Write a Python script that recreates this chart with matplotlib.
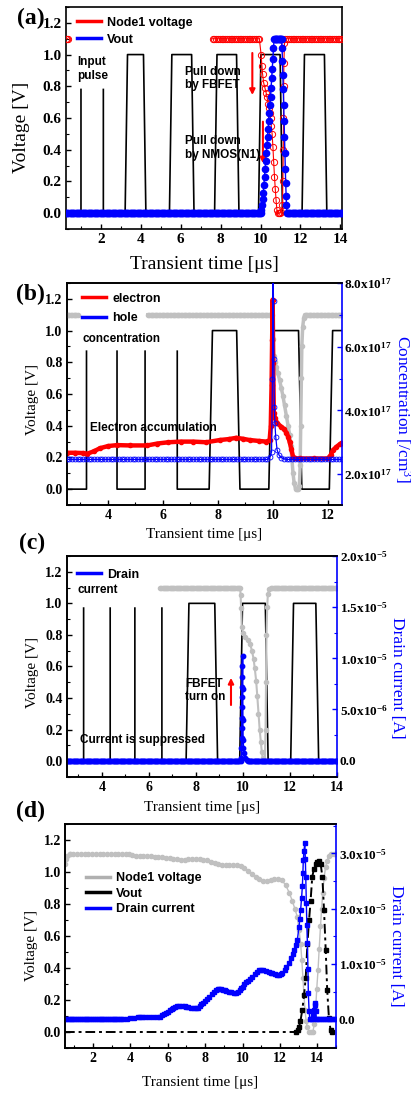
import numpy as np
import matplotlib
matplotlib.use('Agg')
import matplotlib.pyplot as plt
from matplotlib.lines import Line2D
from matplotlib.ticker import MultipleLocator, FixedLocator, FixedFormatter

plt.rcParams['font.family'] = ['Liberation Serif', 'DejaVu Serif']
plt.rcParams['font.weight'] = 'bold'
plt.rcParams['mathtext.default'] = 'regular'
plt.rcParams['xtick.direction'] = 'in'
plt.rcParams['ytick.direction'] = 'in'
plt.rcParams['axes.linewidth'] = 1.2

SANS = ['Liberation Sans', 'DejaVu Sans']
RED, BLUE, GRAY = '#ff0000', '#0000ff', '#c0c0c0'

# ---------------- data ----------------
# (a) input pulses: rise time, fall time, visible edge height
a_on = [1.01, 3.22, 5.44, 7.70, 9.90, 12.08]
a_off = [2.13, 4.14, 6.55, 8.80, 10.98, 13.20]
a_top = [0.78, 1.0, 1.0, 1.0, 1.0, 1.0]

a_vout_rise_t = [10.00, 10.04, 10.08, 10.11, 10.14, 10.17, 10.20, 10.23, 10.26, 10.29, 10.32, 10.35,
                 10.38, 10.41, 10.44, 10.47, 10.50, 10.53, 10.56, 10.59, 10.62, 10.65, 10.68]
a_vout_rise_v = [0.0, 0.02, 0.05, 0.09, 0.13, 0.18, 0.23, 0.28, 0.33, 0.38, 0.43, 0.48,
                 0.53, 0.58, 0.63, 0.68, 0.73, 0.79, 0.85, 0.91, 0.97, 1.04, 1.10]
a_vout_fall_t = [11.06, 11.08, 11.10, 11.12, 11.14, 11.16, 11.18, 11.20, 11.22, 11.24, 11.26, 11.28, 11.30, 11.33]
a_vout_fall_v = [1.10, 1.04, 0.96, 0.87, 0.78, 0.68, 0.58, 0.48, 0.38, 0.28, 0.19, 0.11, 0.05, 0.0]

a_node1_drop_t = [10.03, 10.07, 10.10, 10.16, 10.22, 10.28, 10.33, 10.38, 10.42, 10.46, 10.50, 10.54,
                  10.58, 10.62, 10.66, 10.70, 10.74, 10.78, 10.82, 10.86, 10.92, 10.98, 11.04, 11.10,
                  11.12, 11.14, 11.15, 11.16, 11.17, 11.20]
a_node1_drop_v = [1.0, 0.93, 0.88, 0.82, 0.79, 0.76, 0.73, 0.69, 0.66, 0.63, 0.60, 0.55,
                  0.50, 0.42, 0.32, 0.23, 0.15, 0.08, 0.02, 0.0, 0.0, 0.0, 0.01, 0.05,
                  0.20, 0.40, 0.60, 0.80, 0.95, 1.07]

# (b)
b_on = [3.22, 5.35, 7.68, 9.85, 12.05]
b_off = [4.33, 6.52, 8.68, 10.93, 13.20]
b_top = [0.87, 0.87, 1.0, 1.0, 1.0]

b_node1_drop_t = [10.00, 10.02, 10.06, 10.12, 10.18, 10.24, 10.30, 10.36, 10.42, 10.49, 10.55, 10.61,
                  10.65, 10.69, 10.73, 10.77, 10.82, 10.87, 10.92, 10.96, 10.99, 11.01, 11.03, 11.05,
                  11.08, 11.12, 11.16]
b_node1_drop_v = [0.95, 0.84, 0.80, 0.77, 0.73, 0.69, 0.64, 0.59, 0.53, 0.46, 0.40, 0.34,
                  0.27, 0.19, 0.10, 0.04, 0.0, 0.0, 0.0, 0.02, 0.15, 0.40, 0.70, 0.90,
                  1.02, 1.08, 1.10]

b_elec_t = [2.5, 2.8, 3.1, 3.25, 3.5, 3.7, 4.0, 4.33, 4.8, 5.43, 5.8, 6.2, 6.64, 7.1, 7.58, 8.07,
            8.4, 8.67, 8.9, 9.15, 9.5, 9.76, 9.88, 9.92, 9.95, 9.97, 9.99, 10.01, 10.03, 10.08,
            10.15, 10.3, 10.4, 10.49, 10.55, 10.61, 10.67, 10.73, 10.79, 11.0, 11.5, 12.0, 12.1,
            12.18, 12.3, 12.43, 12.5]
b_elec_n = [2.67, 2.67, 2.66, 2.64, 2.72, 2.81, 2.88, 2.91, 2.90, 2.90, 2.96, 3.00, 3.02, 3.02, 3.00, 3.07,
            3.10, 3.14, 3.11, 3.07, 3.04, 3.02, 3.07, 3.5, 4.8, 6.2, 7.48, 5.5, 3.91, 3.75,
            3.6, 3.49, 3.42, 3.30, 3.18, 3.0, 2.78, 2.55, 2.49, 2.49, 2.49, 2.49, 2.6,
            2.75, 2.85, 2.94, 2.98]  # x1e17 /cm3

b_hole_level = 2.46
b_hole_spike_t = [9.90, 9.95, 9.98, 10.00, 10.02, 10.03, 10.05, 10.07, 10.10, 10.15, 10.22, 10.30, 10.40]
b_hole_spike_n = [2.55, 2.70, 5.00, 8.60, 7.42, 5.60, 4.12, 3.60, 3.18, 2.76, 2.60, 2.52, 2.48]

# (c)
c_on = [3.22, 5.40, 7.58, 9.86, 12.03]
c_off = [4.35, 6.55, 8.80, 10.95, 13.10]
c_top = [0.97, 0.97, 1.0, 1.0, 1.0]

c_node1_drop_t = [9.90, 9.92, 9.95, 10.00, 10.09, 10.20, 10.31, 10.38, 10.45, 10.50, 10.56, 10.61,
                  10.66, 10.71, 10.76, 10.80, 10.84, 10.88, 10.93, 10.96, 10.98, 11.00, 11.03, 11.06, 11.12]
c_node1_drop_v = [1.05, 0.97, 0.85, 0.81, 0.79, 0.77, 0.74, 0.70, 0.65, 0.59, 0.51, 0.41,
                  0.30, 0.20, 0.12, 0.06, 0.02, 0.0, 0.0, 0.20, 0.50, 0.80, 0.98, 1.06, 1.09]

c_spike_t = [9.930, 9.935, 9.940, 9.945, 9.950, 9.955, 9.960, 9.965, 9.970, 9.975, 9.980, 9.985,
             9.990, 10.00, 10.02, 10.05, 10.10, 10.15, 10.20]
c_spike_i = [0.3, 1.2, 2.2, 3.2, 4.2, 5.2, 6.2, 7.2, 8.2, 9.2, 10.2, 7.0,
             4.0, 2.0, 1.2, 0.7, 0.3, 0.1, 0.0]  # x1e-6 A

# (d)
d_node1_t = [0.50, 0.55, 0.62, 0.75, 4.1, 4.3, 4.5, 4.7, 4.9, 5.1, 5.3, 5.5, 5.7, 5.9, 6.1, 6.3, 6.5,
             6.7, 6.9, 7.1, 7.3, 7.5, 7.7, 7.9, 8.1, 8.3, 8.5, 8.7, 8.9, 9.1, 9.3, 9.5, 9.7, 9.9,
             10.1, 10.3, 10.5, 10.7, 10.9, 11.1, 11.3, 11.5, 11.7, 11.9, 12.1, 12.3, 12.5, 12.66,
             12.8, 12.93, 13.02, 13.11, 13.17, 13.23, 13.28, 13.34, 13.40, 13.47, 13.56, 13.66,
             13.76, 13.84, 13.91, 13.97, 14.04, 14.10, 14.17, 14.23, 14.29, 14.36, 14.44, 14.52,
             14.62, 14.75, 14.9, 15.0]
d_node1_v = [1.05, 1.08, 1.10, 1.11, 1.105, 1.103, 1.10, 1.10, 1.10, 1.098, 1.096, 1.094, 1.092,
             1.09, 1.086, 1.082, 1.08, 1.078, 1.078, 1.08, 1.08, 1.082, 1.08, 1.077, 1.072, 1.065,
             1.056, 1.05, 1.046, 1.045, 1.044, 1.044, 1.042, 1.037, 1.025, 1.008, 0.99, 0.97,
             0.955, 0.946, 0.943, 0.947, 0.956, 0.958, 0.948, 0.92, 0.87, 0.82, 0.77, 0.72, 0.64,
             0.55, 0.45, 0.34, 0.24, 0.14, 0.07, 0.03, 0.0, 0.0, 0.0, 0.05, 0.14, 0.27, 0.39,
             0.52, 0.66, 0.77, 0.87, 0.96, 1.03, 1.07, 1.10, 1.11, 1.11, 1.11]

d_vout_t = [12.85, 12.95, 13.02, 13.10, 13.20, 13.29, 13.38, 13.47, 13.56, 13.64, 13.73, 13.82,
            13.91, 14.00, 14.09, 14.18, 14.27, 14.36, 14.45, 14.53, 14.62, 14.71, 14.80]
d_vout_v = [0.0, 0.01, 0.03, 0.07, 0.14, 0.23, 0.34, 0.55, 0.70, 0.82, 0.97, 1.02,
            1.05, 1.065, 1.07, 1.05, 0.97, 0.76, 0.51, 0.26, 0.09, 0.01, 0.0]

d_drain_t = [3.6, 3.8, 4.0, 4.2, 4.4, 4.5, 4.6, 4.8, 5.0, 5.2, 5.4, 5.56, 5.7, 5.8, 5.91, 6.0, 6.1,
             6.2, 6.27, 6.4, 6.5, 6.62, 6.75, 6.9, 6.98, 7.1, 7.25, 7.4, 7.51, 7.6, 7.7, 7.8, 7.87,
             8.0, 8.1, 8.22, 8.35, 8.45, 8.58, 8.67, 8.76, 8.85, 8.95, 9.05, 9.11, 9.25, 9.4, 9.52,
             9.65, 9.75, 9.85, 9.93, 10.0, 10.1, 10.2, 10.3, 10.4, 10.53, 10.65, 10.75, 10.89, 11.0,
             11.1, 11.25, 11.4, 11.5, 11.6, 11.75, 11.85, 11.96, 12.05, 12.13, 12.25, 12.35, 12.49,
             12.6, 12.7, 12.76, 12.85, 12.93, 13.02, 13.07, 13.11, 13.16, 13.2, 13.23, 13.25, 13.29,
             13.33, 13.36, 13.38, 13.41, 13.44, 13.47, 13.5, 13.52, 13.56, 13.6, 13.66, 13.73,
             13.78, 13.82, 13.85, 13.88, 13.92, 13.95]
d_drain_i = [0.05, 0.1, 0.15, 0.25, 0.4, 0.48, 0.45, 0.4, 0.36, 0.38, 0.42, 0.48, 0.7, 0.9, 1.08, 1.35,
             1.6, 1.85, 1.99, 2.2, 2.35, 2.41, 2.38, 2.32, 2.29, 2.22, 2.12, 2.02, 1.99, 2.1, 2.4,
             2.7, 2.89, 3.3, 3.65, 4.1, 4.6, 4.95, 5.3, 5.4, 5.42, 5.38, 5.3, 5.2, 5.12, 4.98, 4.85,
             4.76, 4.7, 4.95, 5.3, 5.6, 5.9, 6.3, 6.65, 7.0, 7.35, 7.71, 8.2, 8.6, 8.92, 8.95, 8.9,
             8.8, 8.6, 8.45, 8.31, 8.15, 8.05, 8.01, 8.1, 8.31, 8.9, 9.4, 10.1, 11.0, 11.8, 12.5,
             13.4, 14.3, 16.7, 18.2, 19.8, 22.0, 24.0, 26.5, 28.8, 30.5, 31.8, 29.0, 25.8, 21.0,
             17.0, 13.7, 9.0, 4.7, 1.5, 0.0, 0.0, 0.0, 0.8, 1.7, 2.5, 2.9, 1.5, 0.0]  # x1e-6 A


# ---------------- helpers ----------------
def flat(t0, t1, level, step):
    t = np.arange(t0, t1, step)
    return t, np.full(t.size, float(level))


def join(*parts):
    t = np.concatenate([np.asarray(p[0], float) for p in parts])
    v = np.concatenate([np.asarray(p[1], float) for p in parts])
    return t, v


GAP = ([np.nan], [np.nan])


def pulses(on, off, top, t0, t1, tr=0.12):
    xs, ys = [t0], [0.0]
    for a, b, h in zip(on, off, top):
        if h >= 1.0:
            xs += [a, a + tr, b, b + tr]
            ys += [0, 1, 1, 0]
        else:
            xs += [a, a, np.nan, b, b]
            ys += [0, h, np.nan, h, 0]
    xs.append(t1)
    ys.append(0.0)
    return xs, ys


def setup(ax, xlim, fs):
    ax.set_xlim(*xlim)
    ax.set_ylim(-0.1, 1.3)
    ax.xaxis.set_major_locator(MultipleLocator(2))
    ax.xaxis.set_minor_locator(MultipleLocator(1))
    ax.yaxis.set_major_locator(MultipleLocator(0.2))
    ax.yaxis.set_minor_locator(MultipleLocator(0.1))
    ax.tick_params(which='major', length=3.5, width=1.0, labelsize=fs, pad=3)
    ax.tick_params(which='minor', length=2, width=0.8)


def right_axis(ax, ylim, ticks, labels, minor, label, lx, ly):
    ax2 = ax.twinx()
    ax.spines['right'].set_visible(False)
    ax2.set_ylim(*ylim)
    ax2.yaxis.set_major_locator(FixedLocator(ticks))
    ax2.yaxis.set_major_formatter(FixedFormatter(labels))
    ax2.yaxis.set_minor_locator(MultipleLocator(minor))
    ax2.spines['right'].set_color(BLUE)
    ax2.tick_params(axis='y', which='major', length=3.5, width=1.0, colors=BLUE,
                    labelcolor='black', labelsize=9.5, pad=2)
    ax2.tick_params(axis='y', which='minor', length=2, width=0.8, colors=BLUE)
    ax2.set_ylabel(label, color=BLUE, fontsize=12.5, fontweight='normal', rotation=270,
                   ha='center', va='center')
    ax2.yaxis.set_label_coords(lx, ly)
    return ax2


def labels(ax, fs, xy_x, xy_y):
    ax.set_xlabel('Transient time [\u03bcs]', fontsize=fs, fontweight='normal', va='center')
    ax.set_ylabel('Voltage [V]', fontsize=fs, fontweight='normal', ha='center', va='center')
    ax.xaxis.set_label_coords(0.5, xy_x)
    ax.yaxis.set_label_coords(xy_y[0], xy_y[1])


def legend(ax, handles, names, x, y, spacing):
    ax.legend(handles, names, loc='upper left', bbox_to_anchor=(x, y), frameon=False,
              prop={'family': SANS, 'weight': 'bold', 'size': 9}, handlelength=1.9,
              handletextpad=0.5, borderaxespad=0, borderpad=0, labelspacing=spacing)


def note(ax, x, y, s, **kw):
    ax.text(x, y, s, family=SANS, fontweight='bold', fontsize=8.5, va='top',
            linespacing=1.15, **kw)


def arrow(ax, x, y0, y1):
    ax.annotate('', xy=(x, y1), xytext=(x, y0),
                arrowprops=dict(arrowstyle='-|>', color=RED, lw=1.5, mutation_scale=8,
                                shrinkA=0, shrinkB=0))


W, H = 411, 1093
fig = plt.figure(figsize=(W / 100, H / 100), dpi=100)


def axes_px(left, top, right, bottom):
    return fig.add_axes([left / W, 1 - bottom / H, (right - left) / W, (bottom - top) / H])


# ---------------- (a) ----------------
ax = axes_px(66, 7, 342, 229)
setup(ax, (0.26, 14.08), 11)
px, py = pulses(a_on, a_off, a_top, 0.26, 14.1)
ax.plot(px, py, color='black', lw=1.2, zorder=2)
nt, nv = join(flat(0.26, 0.34, 1.1, 0.04), GAP, flat(7.6, 10.0, 1.1, 0.09),
              (a_node1_drop_t, a_node1_drop_v), flat(11.25, 14.12, 1.1, 0.09))
ax.plot(nt, nv, color=RED, lw=0.8, marker='o', ms=4.5, mfc='none', mec=RED, mew=0.7, zorder=3)
vt, vv = join(flat(0.26, 9.99, 0.0, 0.06), (a_vout_rise_t, a_vout_rise_v),
              flat(10.72, 11.05, 1.1, 0.04), (a_vout_fall_t, a_vout_fall_v),
              flat(11.38, 14.12, 0.0, 0.06))
ax.plot(vt, vv, color=BLUE, lw=1.0, marker='o', ms=4.5, mec=BLUE, mfc=BLUE, zorder=4)
labels(ax, 14, -0.158, (-0.163, 0.46))
legend(ax, [Line2D([], [], color=RED, lw=2.5), Line2D([], [], color=BLUE, lw=2.5)],
       ['Node1 voltage', 'Vout'], 0.04, 0.957, 0.4)
note(ax, 0.8, 0.99, 'Input\npulse')
note(ax, 6.23, 0.93, 'Pull down\nby FBFET')
note(ax, 6.23, 0.49, 'Pull down\nby NMOS(N1)')
arrow(ax, 9.59, 1.01, 0.745)
arrow(ax, 10.12, 0.577, 0.314)

# ---------------- (b) ----------------
ax = axes_px(66.7, 283, 341.7, 505)
setup(ax, (2.5, 12.5), 10)
px, py = pulses(b_on, b_off, b_top, 2.5, 12.6)
ax.plot(px, py, color='black', lw=1.2, zorder=2)
nt, nv = join(flat(2.5, 2.92, 1.1, 0.05), GAP, flat(5.45, 9.98, 1.1, 0.05),
              (b_node1_drop_t, b_node1_drop_v), flat(11.2, 12.55, 1.1, 0.05))
ax.plot(nt, nv, color=GRAY, lw=2.5, marker='o', ms=3, mec=GRAY, mfc=GRAY, zorder=3)
ax2 = right_axis(ax, (1.03e17, 8.0e17), [2e17, 4e17, 6e17, 8e17],
                 ['2.0x10$^{17}$', '4.0x10$^{17}$', '6.0x10$^{17}$', '8.0x10$^{17}$'],
                 1e17, 'Concentration [/cm$^3$]', 1.223, 0.432)
ht, hn = join(flat(2.5, 9.86, b_hole_level, 0.1), (b_hole_spike_t, b_hole_spike_n),
              flat(10.5, 12.55, b_hole_level, 0.1))
ax2.plot(ht, hn * 1e17, color=BLUE, lw=0.9, marker='o', ms=3.5, mfc='none', mec=BLUE, mew=0.6, zorder=3)
ax2.plot(b_elec_t, np.array(b_elec_n) * 1e17, color=RED, lw=3.2, marker='o', ms=3, mec=RED,
         mfc=RED, zorder=2)
labels(ax, 11, -0.135, (-0.126, 0.473))
legend(ax2, [Line2D([], [], color=RED, lw=2.5), Line2D([], [], color=BLUE, lw=2.5)],
       ['electron', 'hole'], 0.056, 0.957, 0.6)
note(ax, 3.07, 0.985, 'concentration')
note(ax, 3.33, 0.425, 'Electron accumulation')

# ---------------- (c) ----------------
ax = axes_px(66.7, 556, 337, 777)
setup(ax, (2.5, 14.0), 10)
px, py = pulses(c_on, c_off, c_top, 2.5, 14.1)
ax.plot(px, py, color='black', lw=1.2, zorder=2)
nt, nv = join(flat(6.48, 9.89, 1.1, 0.05), (c_node1_drop_t, c_node1_drop_v),
              flat(11.2, 14.05, 1.1, 0.05))
ax.plot(nt, nv, color=GRAY, lw=1.5, marker='o', ms=3, mec=GRAY, mfc=GRAY, zorder=3)
ax2 = right_axis(ax, (-1.6e-6, 2.0e-5), [0, 5e-6, 1e-5, 1.5e-5, 2e-5],
                 ['0.0', '5.0x10$^{-6}$', '1.0x10$^{-5}$', '1.5x10$^{-5}$', '2.0x10$^{-5}$'],
                 2.5e-6, 'Drain current [A]', 1.221, 0.45)
dt, di = join(flat(2.5, 9.93, 0.0, 0.05), (c_spike_t, c_spike_i), flat(10.25, 14.05, 0.0, 0.05))
ax2.plot(dt, di * 1e-6, color=BLUE, lw=1.2, marker='o', ms=3.2, mec=BLUE, mfc=BLUE)
labels(ax, 11, -0.136, (-0.128, 0.473))
legend(ax2, [Line2D([], [], color=BLUE, lw=2.5)], ['Drain'], 0.038, 0.943, 0.4)
note(ax, 2.96, 1.125, 'current')
note(ax, 3.08, 0.175, 'Current is suppressed')
note(ax, 7.54, 0.53, 'FBFET\nturn on')
arrow(ax, 9.49, 0.356, 0.528)

# ---------------- (d) ----------------
ax = axes_px(65, 824, 336, 1048)
setup(ax, (0.5, 15.0), 10)
nt, nv = join(flat(0.75, 4.0, 1.11, 0.2), (d_node1_t[4:], d_node1_v[4:]))
nt = np.concatenate([d_node1_t[:4], nt])
nv = np.concatenate([d_node1_v[:4], nv])
ax.plot(nt, nv, color=GRAY, lw=1.0, marker='o', ms=3, mec=GRAY, mfc=GRAY, zorder=2)
vt, vv = join(flat(0.5, 12.8, 0.0, 0.15), (d_vout_t, d_vout_v), flat(14.85, 15.05, 0.0, 0.1))
ax.plot(vt, vv, color='black', lw=1.4, ls=(0, (5, 2, 1.5, 2)), zorder=3)
ax.plot(d_vout_t, d_vout_v, ls='none', marker='s', ms=2.5, color='black', zorder=3)
ax2 = right_axis(ax, (-5.2e-6, 3.53e-5), [0, 1e-5, 2e-5, 3e-5],
                 ['0.0', '1.0x10$^{-5}$', '2.0x10$^{-5}$', '3.0x10$^{-5}$'],
                 5e-6, 'Drain current [A]', 1.22, 0.456)
dt, di = join(flat(0.5, 3.55, 0.0, 0.1), (d_drain_t, d_drain_i), flat(14.0, 15.05, 0.0, 0.1))
ax2.plot(dt, di * 1e-6, color=BLUE, lw=1.0, marker='s', ms=2.5, mec=BLUE, mfc=BLUE)
labels(ax, 11, -0.152, (-0.122, 0.456))
legend(ax2, [Line2D([], [], color='#b0b0b0', lw=2.5), Line2D([], [], color='black', lw=2.5),
             Line2D([], [], color=BLUE, lw=2.5)],
       ['Node1 voltage', 'Vout', 'Drain current'], 0.077, 0.786, 0.3)

# panel letters
for s, yc in [('(a)', 18), ('(b)', 294), ('(c)', 543), ('(d)', 811)]:
    fig.text(45 / W, 1 - yc / H, s, ha='right', va='center', fontsize=17, fontweight='bold')

fig.savefig('out.png', dpi=100)
